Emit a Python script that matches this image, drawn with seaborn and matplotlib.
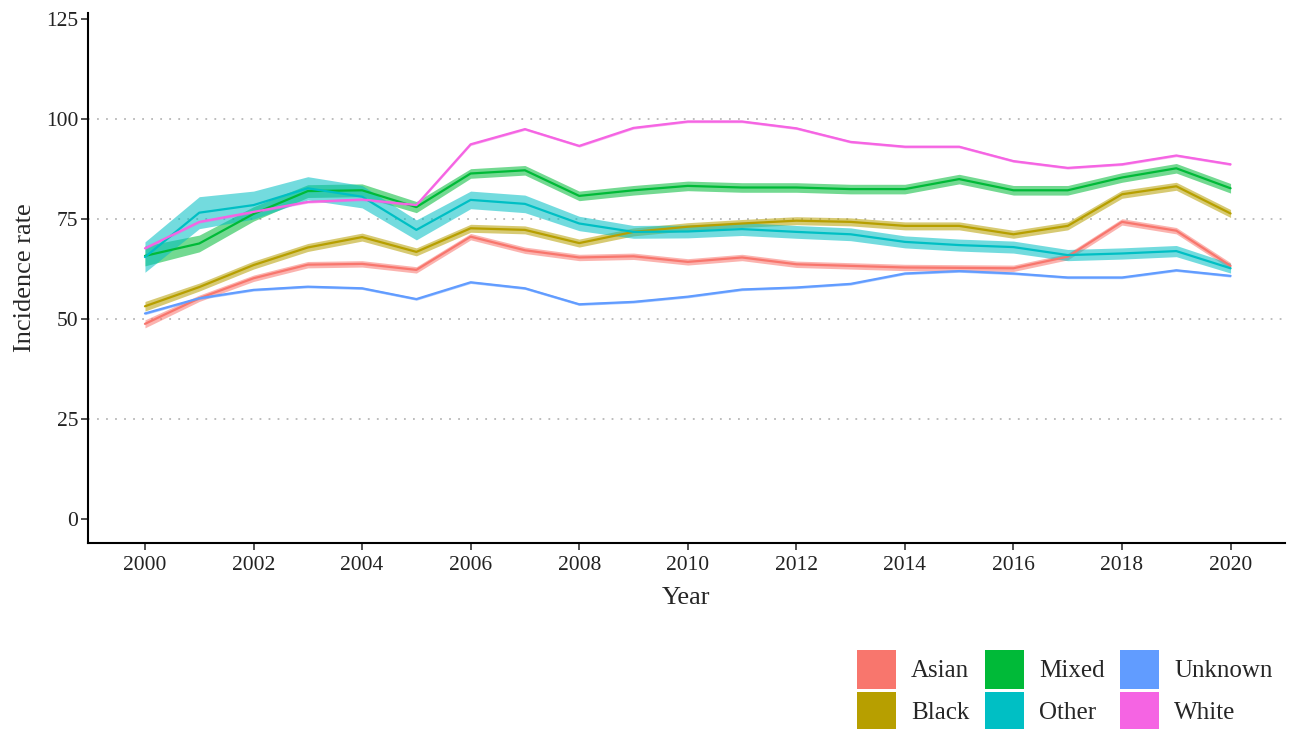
"""Incidence rate by ethnic group, 2000-2020, with confidence bands"""

import numpy as np
import pandas as pd
import seaborn as sns
import matplotlib.pyplot as plt
from matplotlib.patches import Patch

years = list(range(2000, 2021))
groups = ['Asian', 'Black', 'Mixed', 'Other', 'Unknown', 'White']
colours = ['#F8766D', '#B79F00', '#00BA38', '#00BFC4', '#619CFF', '#F564E3']

asian = [48.8, 55.2, 60.2, 63.6, 63.8, 62.3, 70.6, 67.2, 65.4, 65.7, 64.3,
         65.4, 63.7, 63.3, 62.9, 62.8, 62.7, 65.6, 74.3, 72.1, 63.3]
black = [53.2, 58.0, 63.5, 67.9, 70.5, 66.8, 72.7, 72.3, 69.0, 71.8, 73.1,
         73.9, 74.6, 74.3, 73.3, 73.3, 71.2, 73.3, 81.2, 83.2, 76.4]
mixed = [65.8, 68.9, 76.3, 82.0, 82.2, 78.0, 86.4, 87.2, 80.8, 82.2, 83.3,
         82.9, 82.9, 82.5, 82.5, 85.0, 82.2, 82.2, 85.4, 87.7, 82.7]
other = [65.5, 76.6, 78.5, 82.7, 80.6, 72.3, 79.8, 78.8, 73.9, 71.8, 71.9,
         72.5, 71.8, 71.2, 69.3, 68.5, 68.0, 66.0, 66.4, 67.0, 62.7]
unknown = [51.4, 55.2, 57.3, 58.1, 57.7, 55.0, 59.2, 57.7, 53.7, 54.3, 55.6,
           57.4, 57.9, 58.8, 61.4, 62.0, 61.4, 60.4, 60.4, 62.2, 60.8]
white = [67.7, 74.3, 76.8, 79.3, 79.9, 78.5, 93.7, 97.5, 93.3, 97.8, 99.4,
         99.4, 97.7, 94.3, 93.1, 93.1, 89.5, 87.8, 88.7, 90.9, 88.7]

# half-width of the confidence band for each group
asian_ci = [1.0] + [0.8] * 20
black_ci = [1.2] + [1.0] * 20
mixed_ci = [2.5, 2.1, 1.8, 1.6, 1.6, 1.4] + [1.2] * 15
other_ci = [3.8, 4.0, 3.5, 2.9, 2.8, 2.5, 2.2, 2.2, 1.8, 1.6, 1.6,
            1.6, 1.6, 1.6, 1.5, 1.5, 1.5, 1.4, 1.4, 1.4, 1.2]
unknown_ci = [0.3] * 21
white_ci = [0.3] * 21

values = [asian, black, mixed, other, unknown, white]
cis = [asian_ci, black_ci, mixed_ci, other_ci, unknown_ci, white_ci]

rows = []
for group, vals, ci in zip(groups, values, cis):
    for year, v, h in zip(years, vals, ci):
        for rate in (v - h, v, v + h):
            rows.append([group, year, rate])
df = pd.DataFrame(rows, columns=['group', 'Year', 'Incidence rate'])

sns.set_style('white')
plt.rcParams['font.family'] = ['Liberation Serif', 'DejaVu Serif']

fig = plt.figure(figsize=(12.9, 7.29), dpi=100)
ax = fig.add_axes([0.0682, 0.2551, 0.9278, 0.7269])

sns.lineplot(data=df, x='Year', y='Incidence rate', hue='group',
             hue_order=groups, palette=colours, estimator='median',
             errorbar=('pi', 100), err_kws={'alpha': 0.55, 'linewidth': 0},
             linewidth=1.6, legend=False, ax=ax)

ax.set_xlim(1998.95, 2021)
ax.set_ylim(-6, 126.5)
ax.set_xticks(range(2000, 2021, 2))
ax.set_yticks([0, 25, 50, 75, 100, 125])
ax.tick_params(axis='both', labelsize=15.5, length=5, width=1.2,
               direction='out', color='#333333', labelcolor='#222222',
               bottom=True, left=True, pad=2)
ax.tick_params(axis='x', pad=4)
ax.set_xlabel('Year', fontsize=19, labelpad=9)
ax.set_ylabel('Incidence rate', fontsize=19, labelpad=7)

ax.yaxis.grid(True, linestyle=(0, (1, 4)), color='#b8b8b8', linewidth=1.3)
gridlines = ax.yaxis.get_gridlines()
gridlines[0].set_visible(False)
gridlines[-1].set_visible(False)
ax.xaxis.grid(False)

for side in ['top', 'right']:
    ax.spines[side].set_visible(False)
for side in ['left', 'bottom']:
    ax.spines[side].set_color('black')
    ax.spines[side].set_linewidth(1.5)

handles = [Patch(facecolor=c, edgecolor='none') for c in colours]
fig.legend(handles, groups, ncol=3, loc='upper left',
           bbox_to_anchor=(857 / 1290, 1 - 650 / 729),
           bbox_transform=fig.transFigure, frameon=False, fontsize=18,
           handlelength=1.55, handleheight=2.0, handletextpad=0.6,
           columnspacing=0.64, labelspacing=0.12, borderpad=0,
           borderaxespad=0)

plt.savefig('out.png', dpi=100)
